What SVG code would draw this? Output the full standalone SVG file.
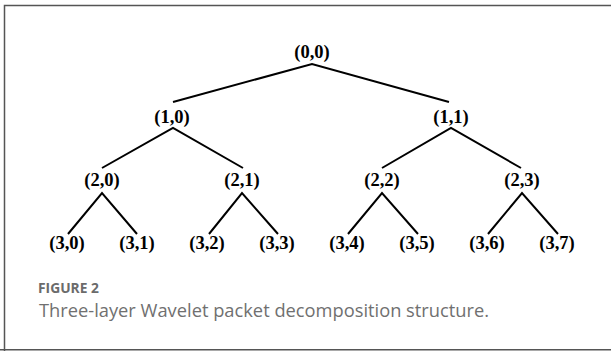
<svg xmlns="http://www.w3.org/2000/svg" width="611" height="351" viewBox="0 0 611 351">
<style>
.n{font-family:"Liberation Serif","Times New Roman",serif;font-weight:bold;font-size:18.5px;fill:#000;text-anchor:middle}
.e{stroke:#000;stroke-width:2;fill:none;stroke-linecap:butt}
.cap1{font-family:"Open Sans","Liberation Sans",sans-serif;font-weight:bold;font-size:13.8px;fill:#6b6b6b}
.cap2{font-family:"Open Sans","Liberation Sans",sans-serif;font-size:18.3px;fill:#707070}
</style>
<rect x="0" y="0" width="611" height="351" fill="#fff"/>
<path d="M4.5,351 V5.5 H611" stroke="#555" stroke-width="1.5" fill="none"/>
<path d="M0,349.8 H611" stroke="#555" stroke-width="1.5" fill="none"/>
<g id="connectors">
<path class="e" d="M173,102 L312,64 L449,102"/>
<path class="e" d="M102,168 L173,128 L243,168"/>
<path class="e" d="M382,168 L451,128 L521,168"/>
<path class="e" d="M68,234 L102,193 L137,234"/>
<path class="e" d="M209,234 L242,193 L278,234"/>
<path class="e" d="M348,234 L382,193 L418,234"/>
<path class="e" d="M488,234 L522,193 L558,234"/>
</g>
<g id="n00"><text class="n" x="312" y="58">(0,0)</text></g>
<g id="n10"><text class="n" x="172" y="123">(1,0)</text></g>
<g id="n11"><text class="n" x="451" y="123">(1,1)</text></g>
<g id="n20"><text class="n" x="102" y="186">(2,0)</text></g>
<g id="n21"><text class="n" x="242" y="186">(2,1)</text></g>
<g id="n22"><text class="n" x="382" y="186">(2,2)</text></g>
<g id="n23"><text class="n" x="522" y="186">(2,3)</text></g>
<g id="n30"><text class="n" x="67" y="249">(3,0)</text></g>
<g id="n31"><text class="n" x="137" y="249">(3,1)</text></g>
<g id="n32"><text class="n" x="207" y="249">(3,2)</text></g>
<g id="n33"><text class="n" x="277" y="249">(3,3)</text></g>
<g id="n34"><text class="n" x="347" y="249">(3,4)</text></g>
<g id="n35"><text class="n" x="417" y="249">(3,5)</text></g>
<g id="n36"><text class="n" x="487" y="249">(3,6)</text></g>
<g id="n37"><text class="n" x="557" y="249">(3,7)</text></g>
<g id="caption">
<text class="cap1" x="38" y="293">FIGURE 2</text>
<text class="cap2" x="39" y="317">Three-layer Wavelet packet decomposition structure.</text>
</g>
</svg>
